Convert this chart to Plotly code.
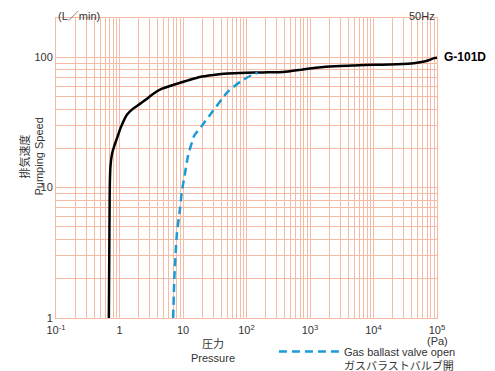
import plotly.graph_objects as go

# Data
main_pressure = [0.68, 0.69, 0.70, 0.705, 0.72, 0.76, 0.83, 0.91, 1.05, 1.31, 1.6, 2.1, 2.7, 3.37, 4.5,
                 6.97, 9, 12, 18.5, 30, 50, 100, 180, 376, 700, 1000, 2065, 5000, 10000, 18000,
                 35000, 54000, 70000, 78000, 90000, 100000]
main_speed = [1, 3, 8, 11, 14.5, 18, 21, 23.8, 29, 36.2, 40, 43.9, 48, 52.3, 57,
              61.2, 63.8, 66.5, 70.5, 73, 75, 76, 76.5, 77, 80, 82, 85, 86.5, 87.5, 88,
              89, 91.5, 94, 96, 98.5, 99]

gb_pressure = [7.0, 7.3, 8.0, 9.0, 9.6, 10.5, 12, 15, 20, 30, 50, 80, 120, 150]
gb_speed = [1, 2, 4.4, 7, 9.4, 12, 17.5, 25, 30, 39, 54, 65, 73, 76]

x_decades = [-1, 0, 1, 2, 3, 4, 5]
x_ticklabels = ["10<sup>-1</sup>", "1", "10", "10<sup>2</sup>", "10<sup>3</sup>", "10<sup>4</sup>", "10<sup>5</sup>"]
y_decades = [0, 1, 2]
y_ticklabels = ["1", "10", "100"]

GRID = "#f6bba5"
TXT = "#333333"
FONT = "Liberation Sans, Arial, Noto Sans CJK JP, sans-serif"

def grid_vals(decades, labels):
    vals, texts = [], []
    for i, d in enumerate(decades):
        for m in range(1, 10):
            if i == len(decades) - 1 and m > 1:
                break
            vals.append(m * 10 ** d)
            texts.append(labels[i] if m == 1 else "")
    return vals, texts

xv, xt = grid_vals(x_decades, x_ticklabels)
yv, yt = grid_vals(y_decades, y_ticklabels)

fig = go.Figure()
fig.add_trace(go.Scatter(x=main_pressure, y=main_speed, mode="lines",
                         line=dict(color="#000000", width=2.5, shape="spline", smoothing=0.5),
                         showlegend=False, hoverinfo="skip"))
fig.add_trace(go.Scatter(x=gb_pressure, y=gb_speed, mode="lines",
                         name="Gas ballast valve open<br>ガスバラストバルブ開",
                         line=dict(color="#1b9ad8", width=2.5, dash="8px,5px", shape="spline", smoothing=0.5),
                         showlegend=True, hoverinfo="skip"))

# page body has an 8px margin, so the figure is sized/offset to compensate
fig.update_layout(
    width=487, height=363,
    margin=dict(l=48, r=58, t=10, b=53, autoexpand=False),
    paper_bgcolor="white", plot_bgcolor="white",
    font=dict(family=FONT, size=11, color=TXT),
    legend=dict(x=0.572, y=-0.066, xanchor="left", yanchor="top", valign="top",
                font=dict(size=11, color=TXT), bgcolor="rgba(0,0,0,0)",
                itemwidth=60, tracegroupgap=0),
)
fig.update_xaxes(type="log", range=[-1, 5], tickvals=xv, ticktext=xt,
                 showgrid=True, gridcolor=GRID, gridwidth=1,
                 showline=True, linecolor=GRID, linewidth=1, mirror=True,
                 ticks="", ticklabelstandoff=2, tickfont=dict(size=11, color=TXT),
                 zeroline=False, automargin=False)
fig.update_yaxes(type="log", range=[0, 2.30103], tickvals=yv, ticktext=yt,
                 showgrid=True, gridcolor=GRID, gridwidth=1,
                 showline=True, linecolor=GRID, linewidth=1, mirror=True,
                 ticks="", tickfont=dict(size=11, color=TXT), zeroline=False, automargin=False)

anns = [
    dict(text="(L／min)", x=0, y=1, xref="paper", yref="paper", xanchor="left", yanchor="top",
         yshift=10, showarrow=False, font=dict(size=11, color=TXT)),
    dict(text="50Hz", x=1, y=1, xref="paper", yref="paper", xanchor="right", yanchor="top",
         yshift=10, showarrow=False, font=dict(size=11, color=TXT)),
    dict(text="<b>G-101D</b>", x=1, y=2, xref="paper", yref="y", xanchor="left", yanchor="middle",
         xshift=5, showarrow=False,
         font=dict(size=12, color="#000000", family="Liberation Sans, Arial, sans-serif")),
    dict(text="(Pa)", x=1, y=0, xref="paper", yref="paper", xanchor="center", yanchor="top",
         yshift=-15, showarrow=False, font=dict(size=11, color=TXT)),
    dict(text="圧力<br>Pressure", x=0.412, y=0, xref="paper", yref="paper", xanchor="center", yanchor="top",
         yshift=-18, showarrow=False, font=dict(size=11, color=TXT)),
    dict(text="排気速度<br>Pumping Speed", x=-0.064, y=0.537, xref="paper", yref="paper",
         xanchor="center", yanchor="middle", textangle=-90, showarrow=False,
         font=dict(size=11, color=TXT)),
]
fig.update_layout(annotations=anns)

fig.write_html("out.html")
